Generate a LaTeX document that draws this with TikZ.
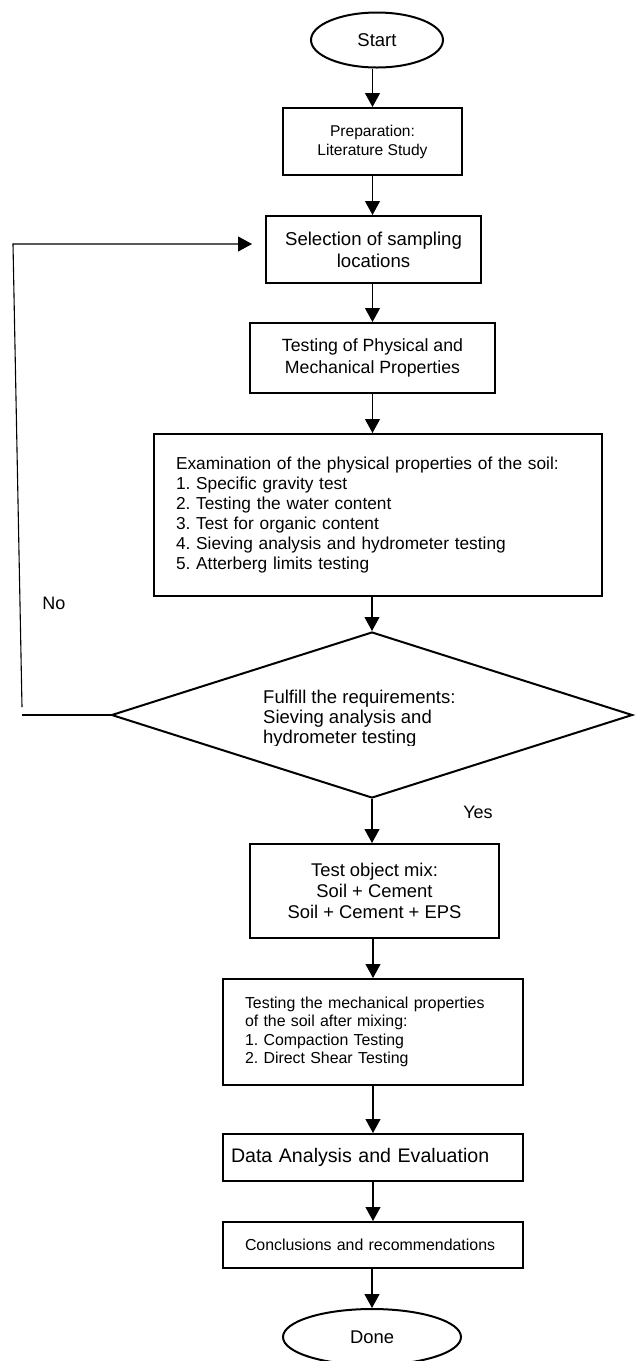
\documentclass[tikz,border=0pt]{standalone}
\usepackage{fontspec}
\setmainfont{Liberation Sans}
\usetikzlibrary{shapes.geometric,arrows.meta}
\frenchspacing
\begin{document}
\begin{tikzpicture}[x=1pt,y=-1pt,
  box/.style={draw, line width=2pt, rectangle, inner sep=0pt, align=center},
  term/.style={draw, line width=2pt, ellipse, inner sep=0pt},
  decision/.style={draw, line width=2pt, diamond, inner sep=0pt},
  arr/.style={-{Triangle[width=15pt,length=14pt]}, line width=1.1pt},
  thinline/.style={line width=1.1pt},
  lbl/.style={inner sep=0pt}]
\useasboundingbox (0,0) rectangle (639,1361);

\node[term, minimum width=132pt, minimum height=55pt, font=\fontsize{18.5}{22}\selectfont] (start) at (377,40) {Start};

\node[box, minimum width=179pt, minimum height=67pt, font=\fontsize{15.6}{19}\selectfont] (prep) at (372.5,141.5) {Preparation:\\Literature Study};

\node[box, minimum width=215pt, minimum height=67pt, font=\fontsize{18.6}{22}\selectfont] (sel) at (373.5,249.5) {Selection of sampling\\locations};

\node[box, minimum width=245pt, minimum height=70pt, font=\fontsize{17.7}{22}\selectfont] (test) at (372.5,358) {Testing of Physical and\\Mechanical Properties};

\node[box, align=left, text width=404pt, inner xsep=22pt, minimum height=162pt, font=\fontsize{17.3}{20}\selectfont] (exam) at (378,515) {Examination of the physical properties of the soil:\\1. Specific gravity test\\2. Testing the water content\\3. Test for organic content\\4. Sieving analysis and hydrometer testing\\5. Atterberg limits testing};

\node[decision, minimum width=521pt, minimum height=166pt] (diam) at (372,715) {};
\begin{scope}
\clip (0,0) rectangle (639,745);
\node[lbl, anchor=west, align=left, font=\fontsize{18.5}{20}\selectfont] (dtext) at (263,719) {Fulfill the requirements:\\Sieving analysis and\\hydrometer testing};
\end{scope}

\node[box, minimum width=249pt, minimum height=94pt, font=\fontsize{18.4}{21}\selectfont] (mix) at (374.5,891) {Test object mix:\\Soil + Cement\\Soil + Cement + EPS};

\node[box, align=left, text width=256pt, inner xsep=22pt, minimum height=106pt, font=\fontsize{15.9}{18.3}\selectfont] (mech) at (373,1032) {Testing the mechanical properties\\of the soil after mixing:\\1. Compaction Testing\\2. Direct Shear Testing};

\node[box, align=left, text width=284pt, inner xsep=8pt, minimum height=47pt, font=\fontsize{19.6}{22}\selectfont] (data) at (373,1157.5) {Data Analysis and Evaluation};

\node[box, align=left, text width=256pt, inner xsep=22pt, minimum height=46pt, font=\fontsize{15.9}{19}\selectfont] (concl) at (373,1245) {Conclusions and recommendations};

\node[term, minimum width=178pt, minimum height=56pt, font=\fontsize{18.4}{22}\selectfont] (done) at (372,1337) {Done};

\node[lbl, font=\fontsize{18}{22}\selectfont] (no) at (54,603) {No};
\node[lbl, font=\fontsize{18}{22}\selectfont] (yes) at (478,812) {Yes};

\draw[arr] (start.south -| prep.north) -- (prep.north);
\draw[arr] (prep.south) -- (prep.south |- sel.north);
\draw[arr] (prep.south |- sel.south) -- (prep.south |- test.north);
\draw[arr] (test.south) -- (test.south |- exam.north);
\draw[arr] (exam.south -| diam.north) -- (diam.north);
\draw[arr] (diam.south) -- (diam.south |- mix.north);
\draw[arr] (mix.south -| mech.north) -- (mech.north);
\draw[arr] (mech.south) -- (data.north);
\draw[arr] (data.south) -- (concl.north);
\draw[arr] (concl.south -| done.north) -- (done.north);

\coordinate (c1) at (22,715);
\coordinate (c2) at (22,707);
\coordinate (c3) at (13,244);
\coordinate (fbend) at (252,244);
\draw[thinline] (diam.west) -- (c1);
\draw[arr] (c2) -- (c3) -- (fbend);
\end{tikzpicture}
\end{document}
